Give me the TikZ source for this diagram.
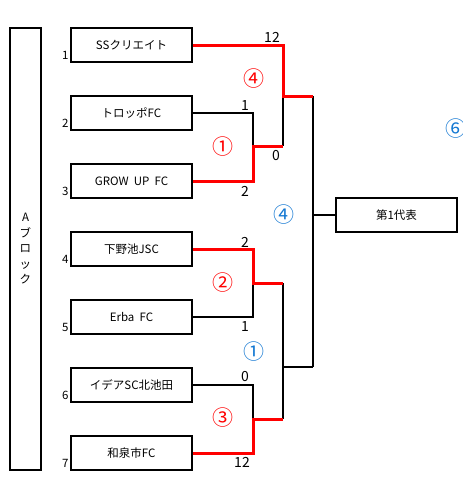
\documentclass[tikz,border=0pt]{standalone}
\usepackage{fontspec}
\setmainfont{Noto Sans CJK JP}
\usetikzlibrary{calc}
\definecolor{winred}{RGB}{255,0,0}
\definecolor{roundblue}{RGB}{20,120,210}
\begin{document}
\begin{tikzpicture}[x=1pt, y=-1pt,
        team/.style={draw, line width=1.8pt, minimum width=121pt, minimum height=34pt, inner sep=0pt, font=\fontsize{11.5}{13}\selectfont},
        idx/.style={anchor=base east, inner sep=1.5pt, font=\fontsize{11.5}{13}\selectfont},
        score/.style={inner sep=0pt, font=\fontsize{14}{16}\selectfont},
        rnd/.style={inner sep=0pt, font=\fontsize{21}{23}\selectfont},
        lose/.style={line width=1.5pt},
        win/.style={line width=3pt, winred}]
        \useasboundingbox (0, 0) rectangle (463, 477);
        % block
        \node[draw, line width=1.8pt, minimum width=31pt, minimum height=442pt] (blk) at (25.5, 249) {};
        \node[align=center, font=\fontsize{11.5}{15.5}\selectfont] (blkname) at (blk.center) {A\\ブ\\ロ\\ッ\\ク};
        % teams
        \node[team] (t1) at (131.5, 45) {SSクリエイト};
        \node[team] (t2) at (131.5, 113) {トロッポFC};
        \node[team] (t3) at (131.5, 181) {GROW\ \ UP\ \ FC};
        \node[team] (t4) at (131.5, 249) {下野池JSC};
        \node[team] (t5) at (131.5, 317) {Erba\ \ FC};
        \node[team] (t6) at (131.5, 385) {イデアSC北池田};
        \node[team] (t7) at (131.5, 453) {和泉市FC};
        \node[team] (rep) at (396.5, 215) {第1代表};
        \node[idx] at ([yshift=3pt]t1.south west) {1};
        \node[idx] at ([yshift=3pt]t2.south west) {2};
        \node[idx] at ([yshift=3pt]t3.south west) {3};
        \node[idx] at ([yshift=3pt]t4.south west) {4};
        \node[idx] at ([yshift=3pt]t5.south west) {5};
        \node[idx] at ([yshift=3pt]t6.south west) {6};
        \node[idx] at ([yshift=3pt]t7.south west) {7};
        % junctions
        \coordinate (m1) at (253, 146);
        \coordinate (q1) at (283, 146);
        \coordinate (m2) at (253, 283);
        \coordinate (q2) at (283, 283);
        \coordinate (m3) at (253, 419);
        \coordinate (q3) at (283, 419);
        \coordinate (m4) at (283, 96);
        \coordinate (f1) at (313, 96);
        \coordinate (m5) at (283, 367);
        \coordinate (f2) at (313, 367);
        % losers
        \draw[lose] (t2.east) -| (m1);
        \draw[lose] (q1) -- (m4);
        \draw[lose] (t5.east) -| (m2);
        \draw[lose] (t6.east) -| (m3);
        \draw[lose] (q2) -- (q3);
        \draw[lose] (m5) -- (f2);
        \draw[lose] (f1) -- (f2);
        \draw[lose] (rep.west) -- (rep.west -| f1);
        % winners
        \draw[win] (t3.east) -| (m1) -- (q1);
        \draw[win] (t1.east) -| (m4) -- (f1);
        \draw[win] (t4.east) -| (m2) -- (q2);
        \draw[win] (t7.east) -| (m3) -- (q3);
        % scores
        \node[score] (s1) at (272, 37) {12};
        \node[score] (s2) at (245, 106) {1};
        \node[score] (s3) at (276, 156) {0};
        \node[score] (s4) at (245, 191) {2};
        \node[score] (s5) at (245, 242) {2};
        \node[score] (s6) at (245, 327) {1};
        \node[score] (s7) at (245, 377) {0};
        \node[score] (s8) at (242, 462) {12};
        % rounds
        \node[rnd, winred] (r4) at (254, 79) {④};
        \node[rnd, winred] (r1) at (223, 147) {①};
        \node[rnd, winred] (r2) at (223, 283) {②};
        \node[rnd, winred] (r3) at (223, 418) {③};
        \node[rnd, roundblue] (b4) at (284, 215) {④};
        \node[rnd, roundblue] (b1) at (254, 352) {①};
        \node[rnd, roundblue] (b6) at (456, 129) {⑥};
    \end{tikzpicture}
\end{document}
